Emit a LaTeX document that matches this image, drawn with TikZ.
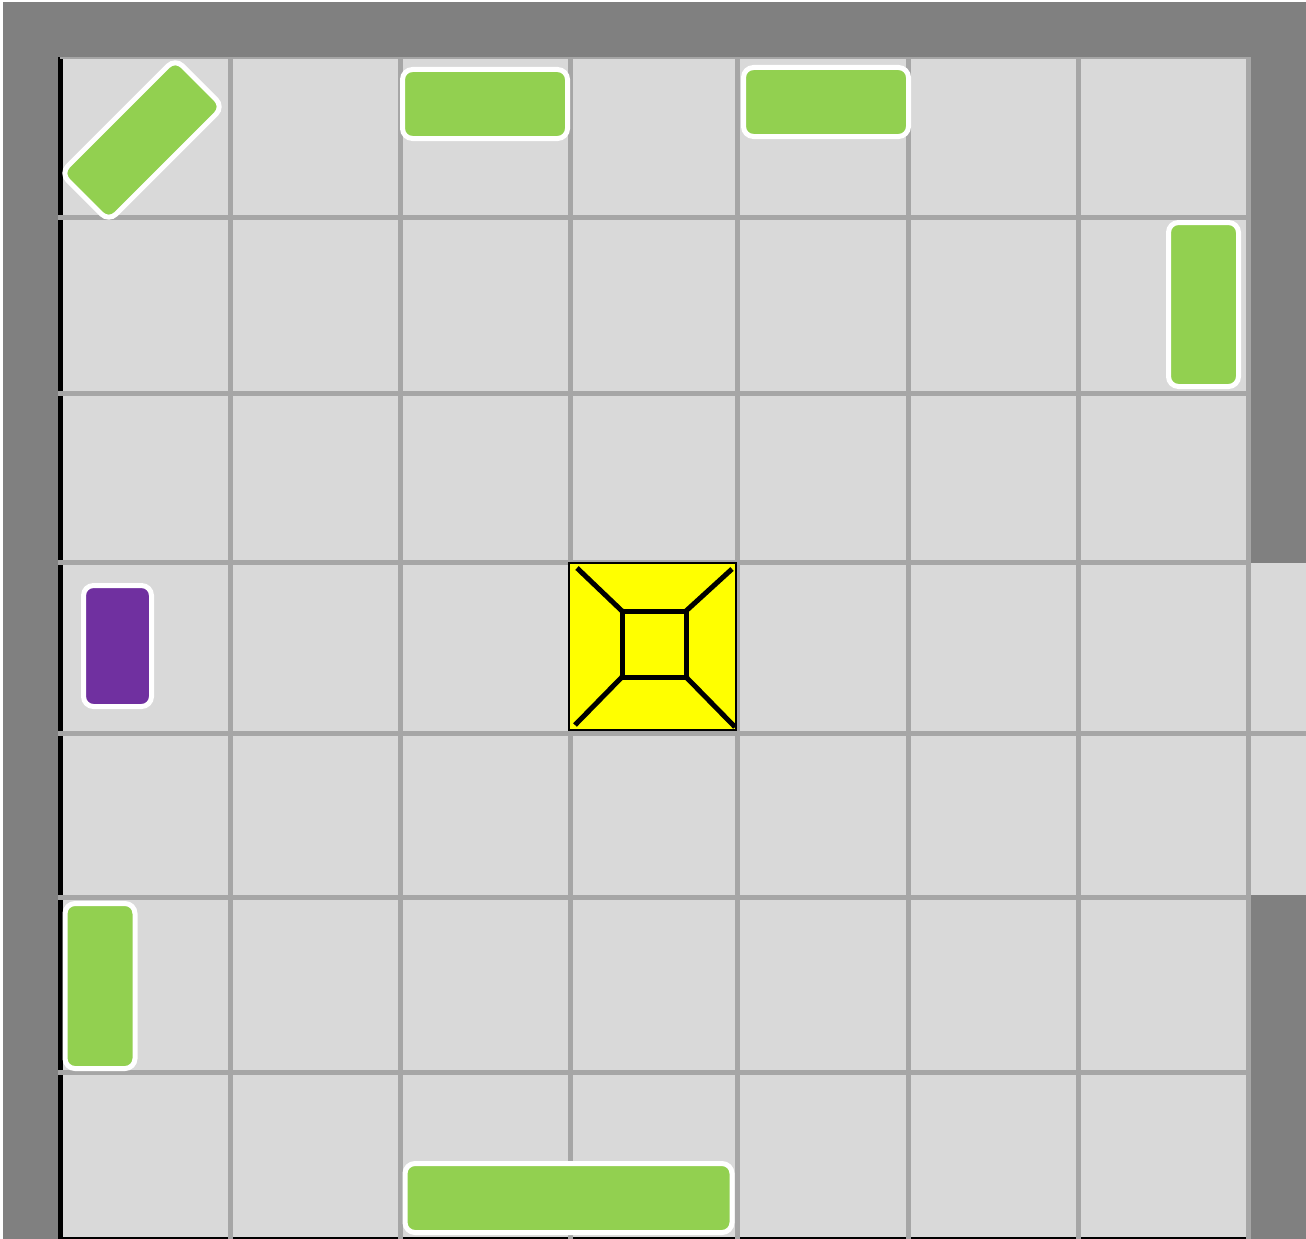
\documentclass[tikz,border=0pt]{standalone}
\usepackage{tikz}

\definecolor{wallgray}{HTML}{808080}
\definecolor{floorgray}{HTML}{D9D9D9}
\definecolor{linegray}{HTML}{A6A6A6}
\definecolor{boxgreen}{HTML}{92D050}
\definecolor{boxpurple}{HTML}{7030A0}
\definecolor{pityellow}{HTML}{FFFF00}

\tikzset{
    gridline/.style={linegray, line width=5pt},
    crate/.style={rectangle, draw=white, line width=5pt, rounded corners=10pt,
        fill=boxgreen, inner sep=0pt},
    pitline/.style={line width=5pt},
}

\begin{document}
\begin{tikzpicture}[x=1pt, y=-1pt]
    \useasboundingbox (0, 0) rectangle (1306, 1239);
    % walls and floor
    \fill[wallgray] (3, 2) rectangle (1306, 1239);
    \fill[floorgray] (60, 57) rectangle (1250, 1239);
    \fill[floorgray] (1250, 563) rectangle (1306, 895);
    \draw[line width=5pt] (60, 57) -- (60, 1239) -- (1246, 1239);
    % grid
    \foreach \x in {230, 400, 570, 737, 908, 1078, 1248}
        \draw[gridline] (\x, 57) -- (\x, 1239);
    \foreach \y in {217, 393, 562, 897, 1072}
        \draw[gridline] (58, \y) -- (1248, \y);
    \draw[gridline] (58, 733) -- (1306, 733);
    \draw[linegray, line width=2pt] (60, 58) -- (1248, 58);
    % crates
    \node[crate, minimum width=162pt, minimum height=68pt, rotate=45] (crateNW) at (142, 140) {};
    \node[crate, minimum width=165pt, minimum height=69pt] (crateN1) at (485, 104) {};
    \node[crate, minimum width=165pt, minimum height=69pt] (crateN2) at (826, 102) {};
    \node[crate, minimum width=70pt, minimum height=164pt] (crateE) at (1203.5, 304.5) {};
    \node[crate, fill=boxpurple, minimum width=68pt, minimum height=121pt] (crateP) at (117.5, 646) {};
    \node[crate, minimum width=70pt, minimum height=165pt] (crateW) at (100, 986) {};
    \node[crate, minimum width=327pt, minimum height=69pt] (crateS) at (568.5, 1198) {};
    % pit in the middle
    \draw[fill=pityellow, line width=2pt] (569, 563) rectangle (736, 730);
    \draw[pitline] (622, 611) rectangle (686, 677);
    \draw[pitline] (577, 568) -- (622, 611);
    \draw[pitline] (732, 569) -- (686, 611);
    \draw[pitline] (575, 725) -- (622, 677);
    \draw[pitline] (735, 727) -- (686, 677);
\end{tikzpicture}
\end{document}
